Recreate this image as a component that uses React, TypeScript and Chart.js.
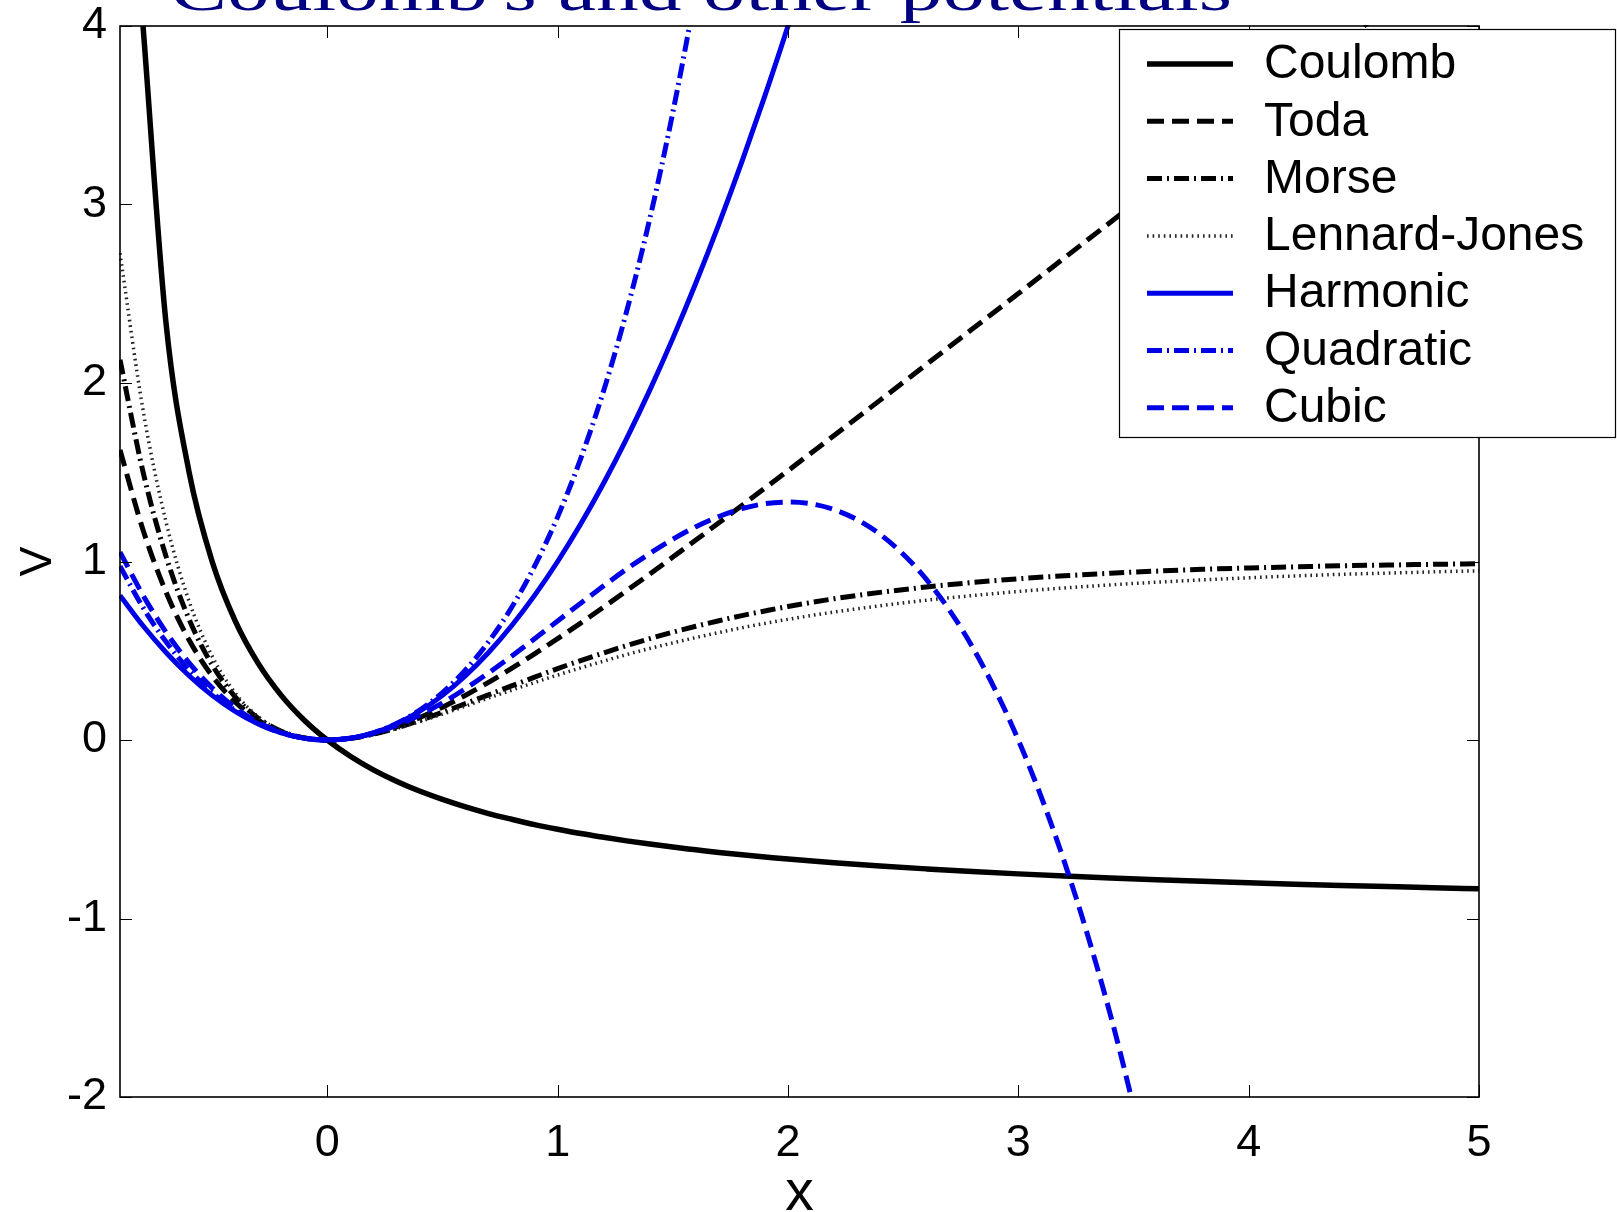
import React, { useEffect, useRef } from "react";
import { Chart, registerables } from "chart.js";

Chart.register(...registerables);

const TITLE = "Coulomb's and other potentials";
const X_LABEL = "x";
const Y_LABEL = "V";
const X_TICKS = [0, 1, 2, 3, 4, 5];
const Y_TICKS = [-2, -1, 0, 1, 2, 3, 4];
const X_MIN = -0.9;
const X_MAX = 5;
const Y_MIN = -2;
const Y_MAX = 4;

const SERIES_NAMES = ["Coulomb", "Toda", "Morse", "Lennard-Jones", "Harmonic", "Quadratic", "Cubic"];

const xs = [
  -0.9, -0.8, -0.7, -0.6, -0.5, -0.4, -0.3, -0.2, -0.1, 0,
  0.1, 0.2, 0.3, 0.4, 0.5, 0.6, 0.7, 0.8, 0.9, 1.0,
  1.1, 1.2, 1.3, 1.4, 1.5, 1.6, 1.7, 1.8, 1.9, 2.0,
  2.2, 2.4, 2.6, 2.8, 3.0, 3.2, 3.4, 3.6, 3.8, 4.0,
  4.2, 4.4, 4.6, 4.8, 5.0,
];

const coulomb = [
  null, 4, 2.333, 1.5, 1, 0.667, 0.429, 0.25, 0.111, 0,
  -0.091, -0.167, -0.231, -0.286, -0.333, -0.375, -0.412, -0.444, -0.474, -0.5,
  -0.524, -0.545, -0.565, -0.583, -0.6, -0.615, -0.63, -0.643, -0.655, -0.667,
  -0.688, -0.706, -0.722, -0.737, -0.75, -0.762, -0.773, -0.783, -0.792, -0.8,
  -0.808, -0.815, -0.821, -0.828, -0.833,
];

const toda = [
  1.625, 1.177, 0.828, 0.56, 0.359, 0.213, 0.111, 0.046, 0.011, 0,
  0.009, 0.035, 0.074, 0.125, 0.184, 0.251, 0.323, 0.401, 0.483, 0.568,
  0.655, 0.745, 0.837, 0.93, 1.025, 1.12, 1.217, 1.314, 1.411, 1.509,
  1.706, 1.904, 2.103, 2.302, 2.501, 2.701, 2.901, 3.1, 3.3, 3.5,
  3.7, 3.9, 4.1, 4.3, 4.5,
];

const morse = [
  2.13, 1.502, 1.028, 0.676, 0.421, 0.242, 0.122, 0.049, 0.011, 0,
  0.009, 0.033, 0.067, 0.109, 0.155, 0.204, 0.253, 0.303, 0.352, 0.4,
  0.445, 0.488, 0.529, 0.568, 0.604, 0.637, 0.668, 0.697, 0.723, 0.748,
  0.791, 0.827, 0.857, 0.882, 0.903, 0.92, 0.934, 0.946, 0.956, 0.964,
  0.97, 0.976, 0.98, 0.984, 0.987,
];

const lennardJones = [
  2.727, 1.849, 1.221, 0.777, 0.47, 0.263, 0.13, 0.051, 0.011, 0,
  0.009, 0.032, 0.064, 0.103, 0.145, 0.19, 0.235, 0.279, 0.322, 0.364,
  0.404, 0.442, 0.479, 0.513, 0.544, 0.574, 0.602, 0.629, 0.653, 0.676,
  0.717, 0.752, 0.783, 0.809, 0.832, 0.852, 0.869, 0.884, 0.897, 0.909,
  0.919, 0.928, 0.935, 0.942, 0.948,
];

const harmonic = [
  0.81, 0.64, 0.49, 0.36, 0.25, 0.16, 0.09, 0.04, 0.01, 0,
  0.01, 0.04, 0.09, 0.16, 0.25, 0.36, 0.49, 0.64, 0.81, 1,
  1.21, 1.44, 1.69, 1.96, 2.25, 2.56, 2.89, 3.24, 3.61, 4,
  4.84, null, null, null, null, null, null, null, null, null,
  null, null, null, null, null,
];

const quadratic = [
  0.974, 0.742, 0.55, 0.392, 0.266, 0.166, 0.092, 0.04, 0.01, 0,
  0.01, 0.04, 0.092, 0.166, 0.266, 0.392, 0.55, 0.742, 0.974, 1.25,
  1.576, 1.958, 2.404, 2.92, 3.516, 4.198, 4.978, null, null, null,
  null, null, null, null, null, null, null, null, null, null,
  null, null, null, null, null,
];

const cubic = [
  1.053, 0.811, 0.604, 0.432, 0.292, 0.181, 0.099, 0.043, 0.01, 0,
  0.01, 0.037, 0.081, 0.139, 0.208, 0.288, 0.376, 0.469, 0.567, 0.667,
  0.766, 0.864, 0.958, 1.045, 1.125, 1.195, 1.252, 1.296, 1.324, 1.333,
  1.291, 1.152, 0.901, 0.523, 0, -0.683, -1.541, -2.592, null, null,
  null, null, null, null, null,
];

const SERIES_VALUES = [coulomb, toda, morse, lennardJones, harmonic, quadratic, cubic];

const BLACK = "#000000";
const BLUE = "#0000e6";
const SERIES_STYLES = [
  { color: BLACK, width: 5.5, dash: [] as number[] },
  { color: BLACK, width: 5, dash: [17, 8] },
  { color: BLACK, width: 5, dash: [15, 5, 2, 5] },
  { color: "#222222", width: 3.5, dash: [1.6, 4] },
  { color: BLUE, width: 5, dash: [] as number[] },
  { color: BLUE, width: 5, dash: [15, 5, 2, 5] },
  { color: BLUE, width: 5, dash: [17, 8] },
];

const SANS = '"Liberation Sans", Arial, Helvetica, sans-serif';
const SERIF = '"Liberation Serif", "Times New Roman", serif';

const framePlugin = {
  id: "matlabFrame",
  afterDatasetsDraw(chart: any) {
    const { ctx, chartArea, scales } = chart;
    const { left, right, top, bottom } = chartArea;
    const xs_ = scales.x;
    const ys_ = scales.y;
    const L = 12;
    ctx.save();
    ctx.strokeStyle = "#000";
    ctx.lineWidth = 1;
    ctx.setLineDash([]);
    ctx.beginPath();
    X_TICKS.forEach((v) => {
      const px = Math.round(xs_.getPixelForValue(v)) + 0.5;
      ctx.moveTo(px, bottom);
      ctx.lineTo(px, bottom - L);
      ctx.moveTo(px, top);
      ctx.lineTo(px, top + L);
    });
    Y_TICKS.forEach((v) => {
      const py = Math.round(ys_.getPixelForValue(v)) + 0.5;
      ctx.moveTo(left, py);
      ctx.lineTo(left + L, py);
      ctx.moveTo(right, py);
      ctx.lineTo(right - L, py);
    });
    ctx.stroke();
    ctx.lineWidth = 1.6;
    ctx.strokeRect(left, top, right - left, bottom - top);
    ctx.restore();
  },
};

const legendPlugin = {
  id: "boxLegend",
  afterDraw(chart: any) {
    const { ctx } = chart;
    const bx = 1119;
    const by = 29;
    const bw = 497;
    const bh = 409;
    ctx.save();
    ctx.fillStyle = "#ffffff";
    ctx.fillRect(bx, by, bw, bh);
    ctx.strokeStyle = "#000";
    ctx.lineWidth = 1.2;
    ctx.setLineDash([]);
    ctx.strokeRect(bx + 0.5, by + 0.5, bw - 1, bh - 1);
    chart.data.datasets.forEach((ds: any, i: number) => {
      const cy = by + 35 + i * 57.3;
      ctx.setLineDash(ds.borderDash || []);
      ctx.strokeStyle = ds.borderColor;
      ctx.lineWidth = ds.borderWidth;
      ctx.beginPath();
      ctx.moveTo(1147, cy);
      ctx.lineTo(1233, cy);
      ctx.stroke();
      ctx.setLineDash([]);
      ctx.fillStyle = "#000";
      ctx.font = `48px ${SANS}`;
      ctx.textAlign = "left";
      ctx.textBaseline = "middle";
      ctx.fillText(ds.label, 1264, cy + 1);
    });
    ctx.restore();
  },
};

const titlePlugin = {
  id: "clippedTitle",
  afterDraw(chart: any) {
    const { ctx } = chart;
    ctx.save();
    ctx.font = `62px ${SERIF}`;
    ctx.fillStyle = "#000080";
    const w = ctx.measureText(TITLE).width;
    const sx = 1062 / w;
    ctx.translate(701, 10);
    ctx.scale(sx, 1);
    ctx.textAlign = "center";
    ctx.textBaseline = "alphabetic";
    ctx.fillText(TITLE, 0, 0);
    ctx.restore();
  },
};

export default function App() {
  const canvasRef = useRef<HTMLCanvasElement | null>(null);

  useEffect(() => {
    const canvas = canvasRef.current;
    if (!canvas) return;
    const datasets = SERIES_NAMES.map((name, i) => ({
      label: name,
      data: xs.map((x, j) => ({ x, y: SERIES_VALUES[i][j] })),
      borderColor: SERIES_STYLES[i].color,
      backgroundColor: SERIES_STYLES[i].color,
      borderWidth: SERIES_STYLES[i].width,
      borderDash: SERIES_STYLES[i].dash,
      pointRadius: 0,
      fill: false,
      cubicInterpolationMode: "monotone" as const,
      spanGaps: false,
      order: SERIES_NAMES.length - i,
      clip: 1,
    }));

    const chart = new Chart(canvas, {
      type: "line",
      data: { datasets },
      options: {
        responsive: false,
        animation: false,
        devicePixelRatio: 1,
        layout: { padding: { top: 26, right: 138, bottom: 0, left: 0 } },
        plugins: {
          legend: { display: false },
          title: { display: false },
          tooltip: { enabled: false },
        },
        scales: {
          x: {
            type: "linear",
            min: X_MIN,
            max: X_MAX,
            afterBuildTicks: (s: any) => {
              s.ticks = X_TICKS.map((v) => ({ value: v }));
            },
            afterFit: (s: any) => {
              s.height = 115;
              s.paddingLeft = 0;
              s.paddingRight = 0;
              s.paddingTop = 0;
              s.paddingBottom = 0;
            },
            grid: { display: false, drawTicks: false },
            border: { display: false },
            ticks: {
              color: "#000",
              font: { family: SANS, size: 45, lineHeight: 1 },
              padding: 24,
              maxRotation: 0,
              autoSkip: false,
            },
            title: {
              display: true,
              text: X_LABEL,
              color: "#000",
              font: { family: SANS, size: 57, lineHeight: 0.55 },
              padding: { top: 0, bottom: 2 },
            },
          },
          y: {
            type: "linear",
            min: Y_MIN,
            max: Y_MAX,
            afterBuildTicks: (s: any) => {
              s.ticks = Y_TICKS.map((v) => ({ value: v }));
            },
            afterFit: (s: any) => {
              s.width = 120;
              s.paddingLeft = 0;
              s.paddingRight = 0;
              s.paddingTop = 0;
              s.paddingBottom = 0;
            },
            grid: { display: false, drawTicks: false },
            border: { display: false },
            ticks: {
              color: "#000",
              font: { family: SANS, size: 45, lineHeight: 1 },
              padding: 13,
              autoSkip: false,
            },
            title: {
              display: true,
              text: Y_LABEL,
              color: "#000",
              font: { family: SANS, size: 45, lineHeight: 1 },
              padding: { top: 16, bottom: 0 },
            },
          },
        },
      },
      plugins: [framePlugin, legendPlugin, titlePlugin],
    } as any);

    return () => {
      chart.destroy();
    };
  }, []);

  return (
    <div
      style={{
        position: "fixed",
        left: 0,
        top: 0,
        width: 1617,
        height: 1212,
        background: "#ffffff",
      }}
    >
      <canvas ref={canvasRef} width={1617} height={1212} style={{ display: "block" }} />
    </div>
  );
}
